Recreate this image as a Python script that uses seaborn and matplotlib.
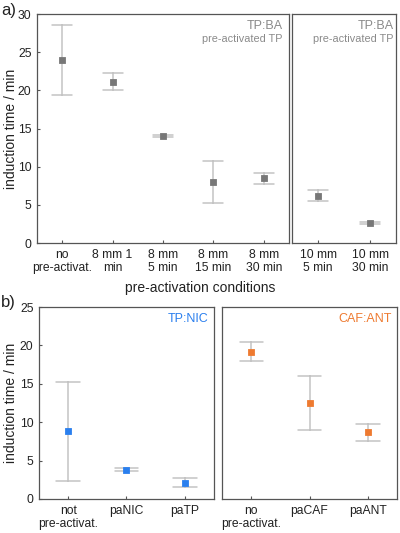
import numpy as np
import pandas as pd
import seaborn as sns
import matplotlib.pyplot as plt

# panel a) TP:BA
a_left_labels = ["no\npre-activat.", "8 mm 1\nmin", "8 mm\n5 min", "8 mm\n15 min", "8 mm\n30 min"]
a_left_val = [24.0, 21.1, 14.0, 8.0, 8.5]
a_left_lo = [19.4, 20.0, 13.85, 5.2, 7.8]
a_left_hi = [28.6, 22.3, 14.15, 10.8, 9.2]

a_right_labels = ["10 mm\n5 min", "10 mm\n30 min"]
a_right_val = [6.2, 2.6]
a_right_lo = [5.5, 2.45]
a_right_hi = [6.9, 2.75]

# panel b) TP:NIC and CAF:ANT
b_left_labels = ["not\npre-activat.", "paNIC", "paTP"]
b_left_val = [8.8, 3.8, 2.1]
b_left_lo = [2.4, 3.6, 1.5]
b_left_hi = [15.2, 4.0, 2.7]

b_right_labels = ["no\npre-activat.", "paCAF", "paANT"]
b_right_val = [19.2, 12.5, 8.7]
b_right_lo = [18.0, 9.0, 7.5]
b_right_hi = [20.4, 16.0, 9.8]

GRAY = "#777777"
ERR = "#c4c4c4"
BLUE = "#2a7fee"
ORANGE = "#ee7a30"
SPINE = "#555555"
TXT = "#222222"

sns.set_style("ticks")
plt.rcParams["font.family"] = ["Liberation Sans", "DejaVu Sans"]


def long_form(labels, val, lo, hi):
    rows = []
    for lab, v, l, h in zip(labels, val, lo, hi):
        for y in (l, v, h):
            rows.append({"cond": lab, "t": y})
    return pd.DataFrame(rows)


def draw(ax, labels, val, lo, hi, color, ylim, yticks, show_y):
    df = long_form(labels, val, lo, hi)
    sns.pointplot(data=df, x="cond", y="t", order=labels, ax=ax,
                  estimator="median", errorbar=lambda v: (v.min(), v.max()),
                  linestyle="none", marker="s", markersize=3, color=color,
                  capsize=0.4, err_kws={"color": ERR, "linewidth": 1.1, "zorder": 1})
    ax.set_xlim(-0.5, len(labels) - 0.5)
    ax.set_ylim(*ylim)
    ax.set_yticks(yticks)
    ax.set_xlabel("")
    ax.set_ylabel("")
    ax.tick_params(axis="both", labelsize=8.7, colors=SPINE, labelcolor=TXT,
                   direction="in", length=2.5, width=0.8, pad=4)
    if not show_y:
        ax.tick_params(axis="y", left=False, labelleft=False)
    for s in ax.spines.values():
        s.set_visible(True)
        s.set_color(SPINE)
        s.set_linewidth(0.9)


fig = plt.figure(figsize=(4, 5.33), dpi=100)

ax1 = fig.add_axes([0.0925, 0.544, 0.630, 0.4296])
ax2 = fig.add_axes([0.730, 0.544, 0.260, 0.4296])
ax3 = fig.add_axes([0.0975, 0.0638, 0.4375, 0.360])
ax4 = fig.add_axes([0.555, 0.0638, 0.4375, 0.360])

draw(ax1, a_left_labels, a_left_val, a_left_lo, a_left_hi, GRAY, (0, 30), range(0, 31, 5), True)
draw(ax2, a_right_labels, a_right_val, a_right_lo, a_right_hi, GRAY, (0, 30), range(0, 31, 5), False)
draw(ax3, b_left_labels, b_left_val, b_left_lo, b_left_hi, BLUE, (0, 25), range(0, 26, 5), True)
draw(ax4, b_right_labels, b_right_val, b_right_lo, b_right_hi, ORANGE, (0, 25), range(0, 26, 5), False)

ax1.set_ylabel("induction time / min", fontsize=10, color=TXT)
ax3.set_ylabel("induction time / min", fontsize=10, color=TXT)
ax1.yaxis.set_label_coords(-19 / 252, 0.5)
ax3.yaxis.set_label_coords(-21 / 175, 0.5)

for ax in (ax1, ax2):
    ax.text(0.975, 0.974, "TP:BA", transform=ax.transAxes, ha="right", va="top",
            fontsize=9, color="#8a8a8a")
    ax.text(0.975, 0.915, "pre-activated TP", transform=ax.transAxes, ha="right", va="top",
            fontsize=7.8, color="#8a8a8a")
ax3.text(0.97, 0.968, "TP:NIC", transform=ax3.transAxes, ha="right", va="top",
         fontsize=9, color=BLUE)
ax4.text(0.97, 0.968, "CAF:ANT", transform=ax4.transAxes, ha="right", va="top",
         fontsize=9, color=ORANGE)

fig.text(0.5, 1 - 288 / 533, "pre-activation conditions", ha="center", va="center",
         fontsize=10, color=TXT)
fig.text(0.003, 1 - 11 / 533, "a)", ha="left", va="center", fontsize=12, color=TXT)
fig.text(0.003, 1 - 302 / 533, "b)", ha="left", va="center", fontsize=12, color=TXT)

fig.savefig("out.png", dpi=100)
